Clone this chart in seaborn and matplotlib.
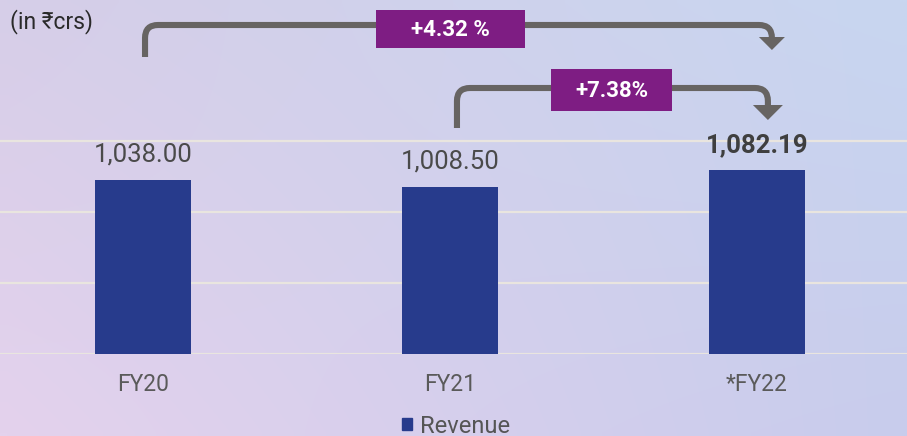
import numpy as np
import pandas as pd
import seaborn as sns
import matplotlib.pyplot as plt
from matplotlib.path import Path
from matplotlib.patches import PathPatch, Polygon, Rectangle, Patch
import matplotlib.transforms as mtransforms

# ---- data ----
categories = ["FY20", "FY21", "*FY22"]
revenue = [1038.00, 1008.50, 1082.19]
value_labels = ["1,038.00", "1,008.50", "1,082.19"]
growth_labels = ["+4.32 %", "+7.38%"]
unit_label = "(in \u20b9crs)"
series_name = "Revenue"

sns.set_theme(style="white")
plt.rcParams['font.family'] = ['Roboto', 'DejaVu Sans']

W, H = 907, 436
BAR = "#273b8c"
ARROW = "#676462"
BOX = "#7e1d83"

fig = plt.figure(figsize=(W / 100, H / 100), dpi=100)

# background gradient
bg = fig.add_axes([0, 0, 1, 1], zorder=0)
tl = np.array([214, 206, 232]) / 255
tr = np.array([200, 214, 240]) / 255
bl = np.array([228, 210, 237]) / 255
br = np.array([200, 204, 236]) / 255
n = 64
u = np.linspace(0, 1, n)[None, :, None]
v = np.linspace(0, 1, n)[:, None, None]
img = (1 - v) * ((1 - u) * tl + u * tr) + v * ((1 - u) * bl + u * br)
bg.imshow(img, extent=[0, 1, 0, 1], aspect='auto', interpolation='bilinear')
bg.set_xlim(0, 1); bg.set_ylim(0, 1)
bg.axis('off')

# main axes
ax = fig.add_axes([0, 1 - 354 / H, 1, 354 / H], zorder=1)
ax.patch.set_alpha(0)
df = pd.DataFrame({"Year": categories, "Revenue": revenue})
sns.barplot(data=df, x="Year", y="Revenue", color=BAR, saturation=1,
            width=0.312, ax=ax, zorder=3, linewidth=0)
ax.set_xlim(-0.466, 2.489)
ymin, scale = 269.1, 0.2263  # px per data unit
ax.set_ylim(ymin, ymin + 354 / scale)
ax.set_yticks([ymin + k * 71 / scale for k in range(4)])
ax.yaxis.grid(True, color='#e9e5df', lw=1.6)
ax.set_axisbelow(True)
ax.tick_params(axis='y', labelleft=False, length=0)
ax.tick_params(axis='x', length=0, pad=14, labelsize=16.5, labelcolor='#5a5a5a')
ax.set_xlabel(""); ax.set_ylabel("")
for s in ax.spines.values():
    s.set_visible(False)

for i, (val, lab) in enumerate(zip(revenue, value_labels)):
    bold = i == len(revenue) - 1
    ax.text(i, val + 18 / scale, lab, ha='center', va='baseline',
            fontsize=18.5, fontweight='bold' if bold else 'normal',
            color='#3f3f3f' if bold else '#4a4a4a', zorder=4)

# pixel transform (y from top)
T = mtransforms.Affine2D().scale(1 / W, -1 / H).translate(0, 1) + fig.transFigure
fig.canvas.draw()
cx = [ax.transData.transform((i, 0))[0] for i in range(len(categories))]


def elbow(x0, yb, yh, x1, yend, tip, hw, r=13):
    verts = [(x0, yb), (x0, yh + r), (x0, yh), (x0 + r, yh), (x1 - r, yh),
             (x1, yh), (x1, yh + r), (x1, yend)]
    codes = [Path.MOVETO, Path.LINETO, Path.CURVE3, Path.CURVE3, Path.LINETO,
             Path.CURVE3, Path.CURVE3, Path.LINETO]
    fig.add_artist(PathPatch(Path(verts, codes), fill=False, ec=ARROW, lw=4.4,
                             capstyle='butt', joinstyle='miter', transform=T, zorder=5))
    fig.add_artist(Polygon([(x1 - hw, yend), (x1 + hw, yend), (x1, tip)],
                           closed=True, fc=ARROW, ec='none', transform=T, zorder=5))


elbow(cx[0] + 2, 57, 25, cx[2] + 15, 37, 50, 13)
elbow(cx[1] + 7, 128, 88, cx[2] + 11, 105, 120, 15)

# growth boxes
for (x, y, w, h), lab in zip([(376, 10, 149, 38), (551, 69, 121, 42)], growth_labels):
    fig.add_artist(Rectangle((x, y), w, h, fc=BOX, ec='none', transform=T, zorder=6))
    fig.text(x + w / 2, y + h / 2 + 1, lab, transform=T, ha='center', va='center',
             color='white', fontsize=16, fontweight='bold', zorder=7)

fig.text(10, 22, unit_label, transform=T, ha='left', va='center', fontsize=16.5,
         color='#2a2a2a', zorder=7)

fig.legend(handles=[Patch(color=BAR, label=series_name)], loc='center',
           bbox_to_anchor=(456 / W, 1 - 426 / H), frameon=False, fontsize=17,
           handlelength=0.42, handleheight=0.42, handletextpad=0.35,
           labelcolor='#555555')

fig.savefig('out.png', dpi=100)
